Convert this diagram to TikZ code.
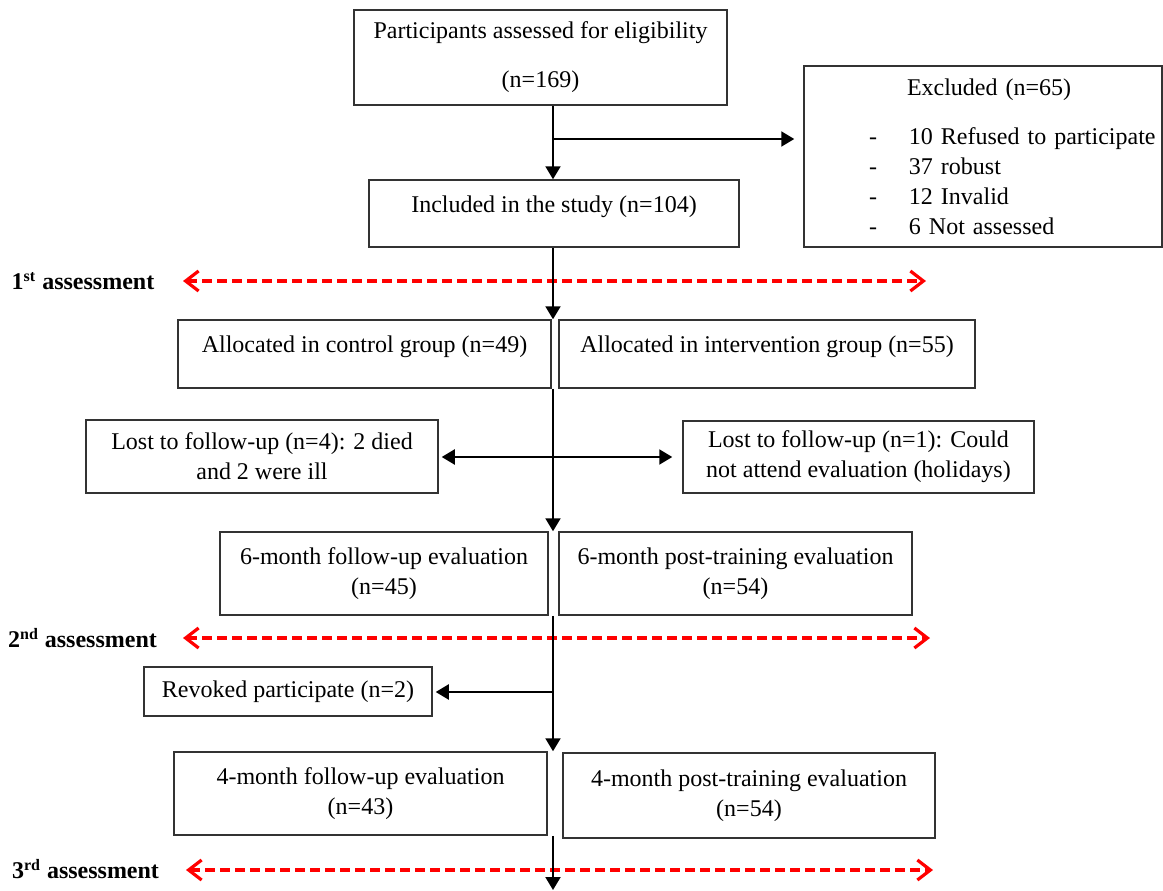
\documentclass[tikz,border=0pt]{standalone}
\usepackage{fontspec}
\setmainfont{Liberation Serif}
\usetikzlibrary{arrows.meta}

\newcommand{\exitem}[1]{\hspace*{32.5pt}\makebox[20pt][l]{-}#1}

\begin{document}
\begin{tikzpicture}[x=0.5pt, y=-0.5pt,
    box/.style={draw=black!80, line width=0.75pt, inner sep=0pt, align=center,
        font=\fontsize{12}{15}\selectfont},
    upper/.style={text height=9pt, text depth=10.5pt},
    flow/.style={-{Triangle[length=6.5pt, width=7.5pt]}, line width=1pt},
    assess/.style={{Straight Barb[length=6.5pt, width=10pt]}-{Straight Barb[length=6.5pt, width=10pt]},
        red, line width=1.6pt, dash pattern=on 5pt off 2.5pt},
    stage/.style={font=\fontsize{12}{15}\selectfont\bfseries}]

    \useasboundingbox (0, 0) rectangle (1163, 890);

    \begin{scope}[every node/.style={box}]
        \node[minimum width=186.5pt, minimum height=47.5pt] (part) at (540.5, 57.5)
            {Participants assessed for eligibility\\[9.5pt] (n=169)};
        \node[align=left, text width=179pt, minimum height=90.5pt] (excl) at (983, 156.5)
            {\hspace*{51.5pt}Excluded (n=65)\\[9.5pt]
             \exitem{10 Refused to participate}\\
             \exitem{37 robust}\\
             \exitem{12 Invalid}\\
             \exitem{6 Not assessed}};
        \node[upper, minimum width=185pt, minimum height=33.5pt] (incl) at (554, 213.5)
            {Included in the study (n=104)};

        \node[upper, minimum width=186.5pt, minimum height=34pt] (ctrl) at (364.5, 354)
            {Allocated in control group (n=49)};
        \node[upper, minimum width=208pt, minimum height=34pt] (intv) at (767, 354)
            {Allocated in intervention group (n=55)};

        \node[minimum width=176pt, minimum height=36.5pt] (lostc) at (262, 456.5)
            {Lost to follow-up (n=4): 2 died\\ and 2 were ill};
        \node[minimum width=175.5pt, minimum height=36pt] (losti) at (858.5, 457)
            {Lost to follow-up (n=1): Could\\ not attend evaluation (holidays)};

        \node[minimum width=164pt, minimum height=41.5pt] (sixc) at (384, 573.5)
            {6-month follow-up evaluation\\ (n=45)};
        \node[minimum width=176.5pt, minimum height=41.5pt] (sixi) at (735.5, 573.5)
            {6-month post-training evaluation\\ (n=54)};

        \node[minimum width=144pt, minimum height=24.5pt] (revk) at (288, 691.5)
            {Revoked participate (n=2)};

        \node[minimum width=186.5pt, minimum height=41.5pt] (fourc) at (360.5, 793.5)
            {4-month follow-up evaluation\\ (n=43)};
        \node[minimum width=186pt, minimum height=42.5pt] (fouri) at (749, 795.5)
            {4-month post-training evaluation\\ (n=54)};
    \end{scope}

    \begin{scope}[every node/.style={stage}]
        \node (first)  at (83, 281)   {1\textsuperscript{st} assessment};
        \node (second) at (82.5, 638) {2\textsuperscript{nd} assessment};
        \node (third)  at (85.5, 869) {3\textsuperscript{rd} assessment};
    \end{scope}

    \coordinate (first-l)  at (183, 281);
    \coordinate (first-r)  at (926, 281);
    \coordinate (second-l) at (183, 638);
    \coordinate (second-r) at (930, 638);
    \coordinate (third-l)  at (186, 870);
    \coordinate (third-r)  at (933, 870);

    \draw[assess] (first-l) -- (first-r);
    \draw[assess] (second-l) -- (second-r);
    \draw[assess] (third-l) -- (third-r);

    \coordinate (spine) at (553, 0);
    \coordinate (exbr)  at (553, 139);
    \coordinate (lostbr) at (553, 457);
    \coordinate (revbr) at (553, 692);
    \coordinate (out)   at (553, 890);

    \begin{scope}[flow]
        \draw (spine |- part.south) -- (spine |- incl.north);
        \draw[shorten >=4.5pt] (exbr) -- (exbr -| excl.west);
        \draw (spine |- incl.south) -- (spine |- ctrl.north);
        \draw (spine |- ctrl.south) -- (spine |- sixc.north);
        \draw[shorten >=1.5pt] (lostbr) -- (lostbr -| lostc.east);
        \draw[shorten >=5pt] (lostbr) -- (lostbr -| losti.west);
        \draw (spine |- sixc.south) -- (spine |- fourc.north);
        \draw[shorten >=1.5pt] (revbr) -- (revbr -| revk.east);
        \draw (spine |- fourc.south) -- (out);
    \end{scope}
\end{tikzpicture}
\end{document}
